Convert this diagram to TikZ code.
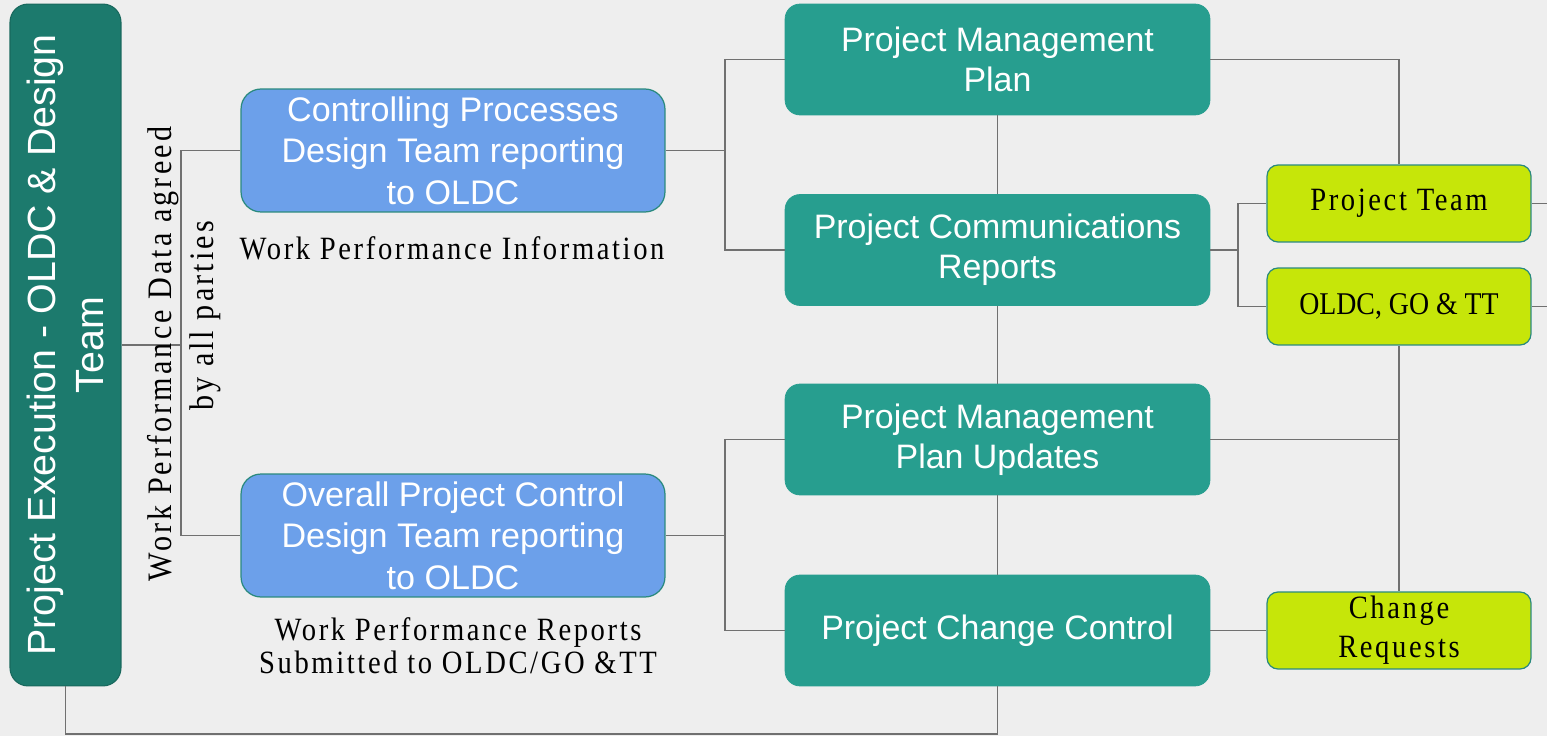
\documentclass[tikz,border=0pt]{standalone}
\usepackage{fontspec}
\setmainfont{Liberation Serif}
\setsansfont{Liberation Sans}
\newfontfamily\notefont{Liberation Serif}[FakeStretch=0.88,LetterSpace=8]
\usetikzlibrary{calc}

\definecolor{execgreen}{HTML}{1C7A6D}
\definecolor{stageteal}{HTML}{279E8F}
\definecolor{ctrlblue}{HTML}{6CA0EA}
\definecolor{partylime}{HTML}{C6E609}
\definecolor{edgeteal}{HTML}{2A8A7E}
\definecolor{wirecol}{HTML}{707070}
\definecolor{paper}{HTML}{EEEEEE}

\tikzset{
    wire/.style={draw=wirecol,line width=0.9pt},
    execbox/.style={fill=execgreen,draw=execgreen!85!black,line width=0.6pt,rounded corners=0.36cm,
        minimum width=13.64cm,minimum height=2.22cm,inner sep=0pt,align=center,text=white,
        font=\sffamily\fontsize{22.4}{27.2}\selectfont},
    ctrlbox/.style={fill=ctrlblue,draw=edgeteal,line width=0.7pt,rounded corners=0.4cm,
        minimum width=8.48cm,minimum height=2.46cm,inner sep=0pt,align=center,text=white,
        font=\sffamily\fontsize{19.4}{23.6}\selectfont},
    stagebox/.style={fill=stageteal,draw=stageteal,rounded corners=0.3cm,
        minimum width=8.5cm,minimum height=2.22cm,inner sep=0pt,align=center,text=white,
        font=\sffamily\fontsize{19.3}{23}\selectfont},
    partybox/.style={fill=partylime,draw=edgeteal,line width=0.7pt,rounded corners=0.22cm,
        minimum width=5.28cm,minimum height=1.54cm,inner sep=0pt,align=center,
        font=\notefont\fontsize{18.5}{22}\selectfont},
    note/.style={inner sep=0pt,align=center,font=\notefont\fontsize{18.5}{18.8}\selectfont}
}

\begin{document}
\begin{tikzpicture}[x=0.02cm,y=-0.02cm]
    \fill[paper] (0,0) rectangle (1547,736);
    \useasboundingbox (0,0) rectangle (1547,736);

    % left column
    \node[execbox,rotate=90] (exec) at (65.5,345) {Project Execution - OLDC \& Design\\Team};
    \node[ctrlbox] (ctrl) at (453,150.5) {Controlling Processes\\Design Team reporting\\to OLDC};
    \node[ctrlbox] (opc) at (453,535.5) {Overall Project Control\\Design Team reporting\\to OLDC};
    \node[note] (wpi) at (452,248) {Work Performance Information};
    \node[note] (wpr) at (458,646) {Work Performance Reports\\Submitted to OLDC/GO \&TT};

    % middle column
    \node[stagebox] (pmp) at (997.5,59.5) {Project Management\\Plan};
    \node[stagebox] (pcr) at (997.5,250) {Project Communications\\Reports};
    \node[stagebox] (pmpu) at (997.5,439.5) {Project Management\\Plan Updates};
    \node[stagebox] (pcc) at (997.5,630.5) {Project Change Control};

    % right column
    \node[partybox] (pt) at (1399,203.5) {Project Team};
    \node[partybox,font=\notefont\fontsize{18}{22}\addfontfeatures{LetterSpace=0}\selectfont] (oldc) at (1399,306.5) {OLDC, GO \& TT};
    \node[partybox] (cr) at (1399,630.5) {Change\\Requests};

    \coordinate (jl) at (181,345);
    \coordinate (jc1) at (725,150.5);
    \coordinate (jc2) at (725,535.5);
    \coordinate (jr) at (1238,250);
    \coordinate (bot) at (0,734);
    \coordinate (edge) at (1547,0);

    % connectors
    \draw[wire] (exec.south) -- (jl);
    \draw[wire] (ctrl.west) -| (jl) |- (opc.west);
    \draw[wire] (ctrl.east) -- (jc1);
    \draw[wire] (pmp.west) -| (jc1) |- (pcr.west);
    \draw[wire] (opc.east) -- (jc2);
    \draw[wire] (pmpu.west) -| (jc2) |- (pcc.west);
    \draw[wire] (pmp) -- (pcr) -- (pmpu) -- (pcc);
    \draw[wire] (pcc.south) -- (pcc.south |- bot) -| (exec.west);
    \draw[wire] (pmp.east) -| (pt.north);
    \draw[wire] (pcr.east) -- (jr);
    \draw[wire] (pt.west) -| (jr) |- (oldc.west);
    \draw[wire] (pt.east) -- (pt.east -| edge);
    \draw[wire] (oldc.east) -- (oldc.east -| edge);
    \draw[wire] (oldc.south) -- (cr.north);
    \draw[wire] (pmpu.east) -- (pmpu.east -| cr.north);
    \draw[wire] (pcc.east) -- (cr.west);

    \node[note,rotate=90,font=\notefont\fontsize{19.5}{23.8}\addfontfeatures{LetterSpace=9}\selectfont] (wpd) at (184,354)
        {Work Performance Data agreed\\\hspace*{1.52cm}by all parties};
\end{tikzpicture}
\end{document}
